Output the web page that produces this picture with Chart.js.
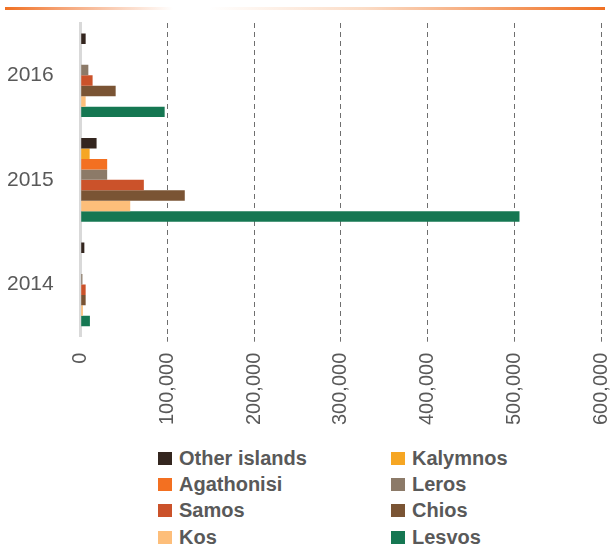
<!DOCTYPE html>
<html>
<head>
<meta charset="utf-8">
<script src="https://cdn.jsdelivr.net/npm/chart.js@4"></script>
<style>
    body { margin: 0; width: 610px; height: 548px; overflow: hidden; background: #fff; position: relative; }
    #topLine {
        position: absolute; left: 5px; top: 7px; width: 600px; height: 3px;
        background: linear-gradient(to right, #f07022 0%, #f5a172 9%, #ffffff 28%, #ffffff 34%, #fbdcc6 60%, #f07022 100%);
    }
    #wrap { position: absolute; left: 0; top: 0; width: 636px; height: 436px; }
    #legend {
        position: absolute; left: 158px; top: 445px;
        display: grid; grid-template-columns: 233px auto;
    }
    .item {
        display: flex; align-items: center; height: 26.4px;
        font: bold 20px 'Liberation Sans', Arial, sans-serif; color: #595959;
    }
    .swatch { width: 14px; height: 13px; margin-right: 7px; }
</style>
</head>
<body>
<div id="topLine"></div>
<div id="wrap"><canvas id="myChart"></canvas></div>
<div id="legend"></div>
<script>
// categories, top to bottom
const years = ['2016', '2015', '2014'];

const islands = ['Other islands', 'Kalymnos', 'Agathonisi', 'Leros', 'Samos', 'Chios', 'Kos', 'Lesvos'];
const islandColors = ['#34261f', '#f6a623', '#f37021', '#8c7a68', '#cb522a', '#7a5434', '#fdbe7a', '#157752'];

// arrivals per island, in the order of years
const otherIslands = [5700, 18300, 4200];
const kalymnos = [0, 10300, 0];
const agathonisi = [0, 30500, 0];
const leros = [8800, 30500, 2000];
const samos = [13700, 72800, 5700];
const chios = [40300, 120000, 5700];
const kos = [5700, 57100, 2500];
const lesvos = [96800, 506000, 10600];

const seriesValues = [otherIslands, kalymnos, agathonisi, leros, samos, chios, kos, lesvos];

const xTicks = [0, 100000, 200000, 300000, 400000, 500000, 600000];

const textColor = '#595959';

const ctx = document.getElementById('myChart');
new Chart(ctx, {
    type: 'bar',
    data: {
        labels: years,
        datasets: islands.map((name, i) => ({
            label: name,
            data: seriesValues[i],
            backgroundColor: islandColors[i],
            borderWidth: 0
        }))
    },
    options: {
        indexAxis: 'y',
        responsive: true,
        maintainAspectRatio: false,
        animation: false,
        layout: { padding: { top: 23, left: 4 } },
        datasets: { bar: { categoryPercentage: 0.8, barPercentage: 1 } },
        plugins: {
            legend: { display: false },
            tooltip: { enabled: false }
        },
        scales: {
            x: {
                min: xTicks[0],
                max: xTicks[xTicks.length - 1],
                afterBuildTicks: axis => { axis.ticks = xTicks.map(v => ({ value: v })); },
                ticks: {
                    minRotation: 90,
                    maxRotation: 90,
                    padding: 11,
                    color: textColor,
                    font: { family: "'Liberation Sans', Arial, sans-serif", size: 20 },
                    callback: v => v.toLocaleString('en-US')
                },
                grid: {
                    color: c => (c.tick && c.tick.value === 0) ? 'rgba(0,0,0,0)' : '#6f6f6f',
                    tickLength: 5,
                    lineWidth: 1
                },
                border: { display: false, dash: [5, 4] }
            },
            y: {
                // grid hidden, tickLength only used as the gap between labels and axis
                grid: { display: false, drawTicks: true, tickLength: 24 },
                border: { display: true, color: '#d9d9d9', width: 3 },
                ticks: {
                    padding: 3,
                    color: textColor,
                    font: { family: "'Liberation Sans', Arial, sans-serif", size: 21 }
                }
            }
        }
    }
});

// legend, two columns in dataset order
const legend = document.getElementById('legend');
islands.forEach((name, i) => {
    const item = document.createElement('div');
    item.className = 'item';
    const sw = document.createElement('span');
    sw.className = 'swatch';
    sw.style.background = islandColors[i];
    item.appendChild(sw);
    item.appendChild(document.createTextNode(name));
    legend.appendChild(item);
});
</script>
</body>
</html>
